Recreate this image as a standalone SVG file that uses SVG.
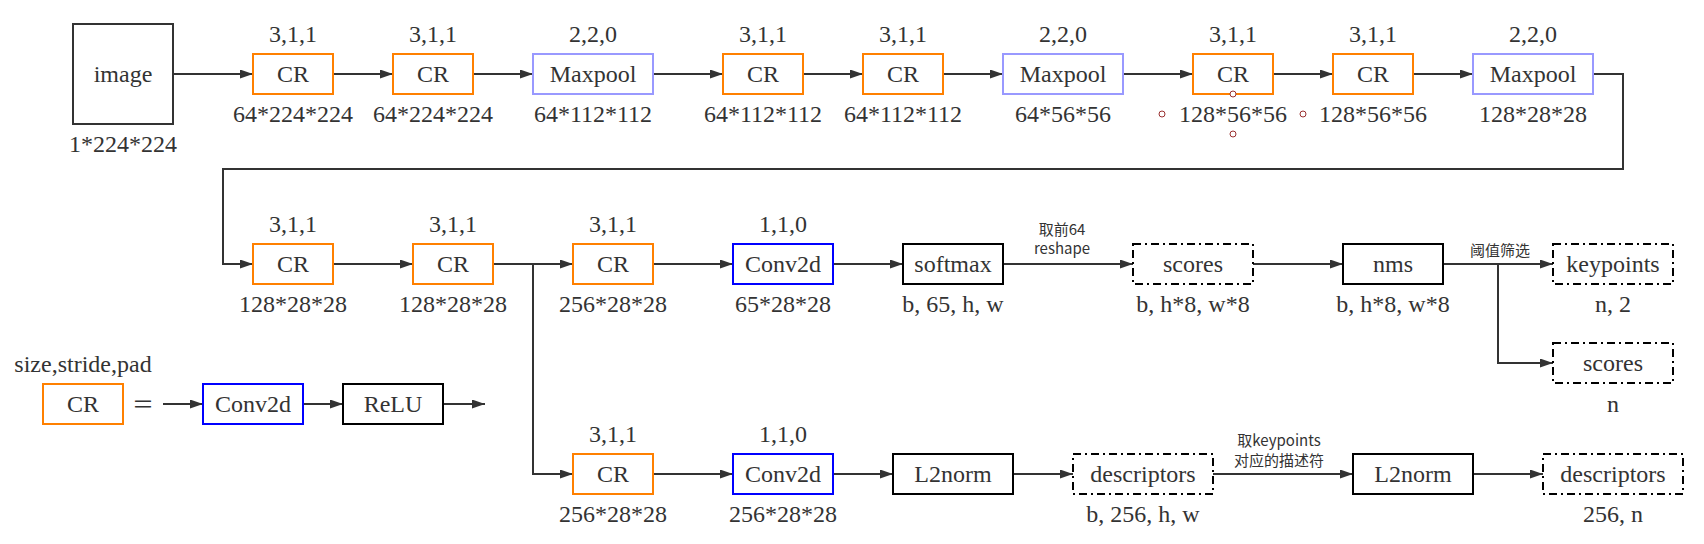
<svg xmlns="http://www.w3.org/2000/svg" width="1704" height="544" viewBox="0 0 1704 544">
<style>
.bx{fill:#fff;stroke-width:2}
.or{stroke:#FF8000}
.mp{stroke:#9999FF}
.cv{stroke:#0000FF}
.bk{stroke:#000}
.im{stroke:#333}
.ds{stroke:#000;stroke-dasharray:8 4 2 4}
.t{font-family:"Liberation Serif","Times New Roman",serif;font-size:24px;fill:#333;text-anchor:middle}
.e{font-family:"Noto Sans CJK SC","Noto Sans",sans-serif;font-size:15px;fill:#333;text-anchor:middle}
.c{fill:none;stroke:#333;stroke-width:2}
.ca{fill:none;stroke:#333;stroke-width:2;marker-end:url(#ah)}
.pt{fill:#fff;stroke:#9a3030;stroke-width:1}
</style>
<defs>
<marker id="ah" markerUnits="userSpaceOnUse" markerWidth="14" markerHeight="10" refX="13" refY="4.5" orient="auto">
<path d="M0,0 L13,4.5 L0,9 z" fill="#333"/>
</marker>
</defs>
<rect width="1704" height="544" fill="#fff"/>

<g id="connectors">
<path class="ca" d="M173,74 H253"/>
<path class="ca" d="M333,74 H393"/>
<path class="ca" d="M473,74 H533"/>
<path class="ca" d="M653,74 H723"/>
<path class="ca" d="M803,74 H863"/>
<path class="ca" d="M943,74 H1003"/>
<path class="ca" d="M1123,74 H1193"/>
<path class="ca" d="M1273,74 H1333"/>
<path class="ca" d="M1413,74 H1473"/>
<path class="ca" d="M1593,74 H1623 V169 H223 V264 H253"/>
<path class="ca" d="M333,264 H413"/>
<path class="ca" d="M493,264 H573"/>
<path class="ca" d="M533,264 V474 H573"/>
<path class="ca" d="M653,264 H733"/>
<path class="ca" d="M833,264 H903"/>
<path class="ca" d="M1003,264 H1133"/>
<path class="ca" d="M1253,264 H1343"/>
<path class="ca" d="M1443,264 H1553"/>
<path class="ca" d="M1498,264 V363 H1553"/>
<path class="ca" d="M653,474 H733"/>
<path class="ca" d="M833,474 H893"/>
<path class="ca" d="M1013,474 H1073"/>
<path class="ca" d="M1213,474 H1353"/>
<path class="ca" d="M1473,474 H1543"/>
<path class="ca" d="M163,404 H203"/>
<path class="ca" d="M303,404 H343"/>
<path class="ca" d="M443,404 H485"/>
<text class="e" x="1062" y="235">取前64</text>
<text class="e" x="1062" y="254">reshape</text>
<text class="e" x="1500" y="256">阈值筛选</text>
<text class="e" x="1279" y="446">取keypoints</text>
<text class="e" x="1279" y="466">对应的描述符</text>
</g>

<g id="n_image"><rect class="bx im" x="73" y="24" width="100" height="100"/><text class="t" x="123" y="82">image</text><text class="t" x="123" y="152">1*224*224</text></g>
<g id="n_cr1"><text class="t" x="293" y="42">3,1,1</text><rect class="bx or" x="253" y="54" width="80" height="40"/><text class="t" x="293" y="82">CR</text><text class="t" x="293" y="122">64*224*224</text></g>
<g id="n_cr2"><text class="t" x="433" y="42">3,1,1</text><rect class="bx or" x="393" y="54" width="80" height="40"/><text class="t" x="433" y="82">CR</text><text class="t" x="433" y="122">64*224*224</text></g>
<g id="n_mp1"><text class="t" x="593" y="42">2,2,0</text><rect class="bx mp" x="533" y="54" width="120" height="40"/><text class="t" x="593" y="82">Maxpool</text><text class="t" x="593" y="122">64*112*112</text></g>
<g id="n_cr3"><text class="t" x="763" y="42">3,1,1</text><rect class="bx or" x="723" y="54" width="80" height="40"/><text class="t" x="763" y="82">CR</text><text class="t" x="763" y="122">64*112*112</text></g>
<g id="n_cr4"><text class="t" x="903" y="42">3,1,1</text><rect class="bx or" x="863" y="54" width="80" height="40"/><text class="t" x="903" y="82">CR</text><text class="t" x="903" y="122">64*112*112</text></g>
<g id="n_mp2"><text class="t" x="1063" y="42">2,2,0</text><rect class="bx mp" x="1003" y="54" width="120" height="40"/><text class="t" x="1063" y="82">Maxpool</text><text class="t" x="1063" y="122">64*56*56</text></g>
<g id="n_cr5"><text class="t" x="1233" y="42">3,1,1</text><rect class="bx or" x="1193" y="54" width="80" height="40"/><text class="t" x="1233" y="82">CR</text><text class="t" x="1233" y="122">128*56*56</text>
<circle class="pt" cx="1162" cy="114" r="3"/><circle class="pt" cx="1233" cy="94" r="3"/><circle class="pt" cx="1233" cy="134" r="3"/><circle class="pt" cx="1303" cy="114" r="3"/></g>
<g id="n_cr6"><text class="t" x="1373" y="42">3,1,1</text><rect class="bx or" x="1333" y="54" width="80" height="40"/><text class="t" x="1373" y="82">CR</text><text class="t" x="1373" y="122">128*56*56</text></g>
<g id="n_mp3"><text class="t" x="1533" y="42">2,2,0</text><rect class="bx mp" x="1473" y="54" width="120" height="40"/><text class="t" x="1533" y="82">Maxpool</text><text class="t" x="1533" y="122">128*28*28</text></g>

<g id="n_cr7"><text class="t" x="293" y="232">3,1,1</text><rect class="bx or" x="253" y="244" width="80" height="40"/><text class="t" x="293" y="272">CR</text><text class="t" x="293" y="312">128*28*28</text></g>
<g id="n_cr8"><text class="t" x="453" y="232">3,1,1</text><rect class="bx or" x="413" y="244" width="80" height="40"/><text class="t" x="453" y="272">CR</text><text class="t" x="453" y="312">128*28*28</text></g>
<g id="n_cr9"><text class="t" x="613" y="232">3,1,1</text><rect class="bx or" x="573" y="244" width="80" height="40"/><text class="t" x="613" y="272">CR</text><text class="t" x="613" y="312">256*28*28</text></g>
<g id="n_conv1"><text class="t" x="783" y="232">1,1,0</text><rect class="bx cv" x="733" y="244" width="100" height="40"/><text class="t" x="783" y="272">Conv2d</text><text class="t" x="783" y="312">65*28*28</text></g>
<g id="n_softmax"><rect class="bx bk" x="903" y="244" width="100" height="40"/><text class="t" x="953" y="272">softmax</text><text class="t" x="953" y="312">b, 65, h, w</text></g>
<g id="n_scores"><rect class="bx ds" x="1133" y="244" width="120" height="40"/><text class="t" x="1193" y="272">scores</text><text class="t" x="1193" y="312">b, h*8, w*8</text></g>
<g id="n_nms"><rect class="bx bk" x="1343" y="244" width="100" height="40"/><text class="t" x="1393" y="272">nms</text><text class="t" x="1393" y="312">b, h*8, w*8</text></g>
<g id="n_keypoints"><rect class="bx ds" x="1553" y="244" width="120" height="40"/><text class="t" x="1613" y="272">keypoints</text><text class="t" x="1613" y="312">n, 2</text></g>
<g id="n_scores2"><rect class="bx ds" x="1553" y="343" width="120" height="40"/><text class="t" x="1613" y="371">scores</text><text class="t" x="1613" y="412">n</text></g>

<g id="n_cr10"><text class="t" x="613" y="442">3,1,1</text><rect class="bx or" x="573" y="454" width="80" height="40"/><text class="t" x="613" y="482">CR</text><text class="t" x="613" y="522">256*28*28</text></g>
<g id="n_conv2"><text class="t" x="783" y="442">1,1,0</text><rect class="bx cv" x="733" y="454" width="100" height="40"/><text class="t" x="783" y="482">Conv2d</text><text class="t" x="783" y="522">256*28*28</text></g>
<g id="n_l2norm1"><rect class="bx bk" x="893" y="454" width="120" height="40"/><text class="t" x="953" y="482">L2norm</text></g>
<g id="n_desc1"><rect class="bx ds" x="1073" y="454" width="140" height="40"/><text class="t" x="1143" y="482">descriptors</text><text class="t" x="1143" y="522">b, 256, h, w</text></g>
<g id="n_l2norm2"><rect class="bx bk" x="1353" y="454" width="120" height="40"/><text class="t" x="1413" y="482">L2norm</text></g>
<g id="n_desc2"><rect class="bx ds" x="1543" y="454" width="140" height="40"/><text class="t" x="1613" y="482">descriptors</text><text class="t" x="1613" y="522">256, n</text></g>

<g id="legend">
<text class="t" x="83" y="372">size,stride,pad</text>
<g id="lg_cr"><rect class="bx or" x="43" y="384" width="80" height="40"/><text class="t" x="83" y="412">CR</text></g>
<text class="t" x="143" y="412" style="font-family:'Noto Sans CJK SC',sans-serif;font-size:22px">＝</text>
<g id="lg_conv"><rect class="bx cv" x="203" y="384" width="100" height="40"/><text class="t" x="253" y="412">Conv2d</text></g>
<g id="lg_relu"><rect class="bx bk" x="343" y="384" width="100" height="40"/><text class="t" x="393" y="412">ReLU</text></g>
</g>
</svg>
